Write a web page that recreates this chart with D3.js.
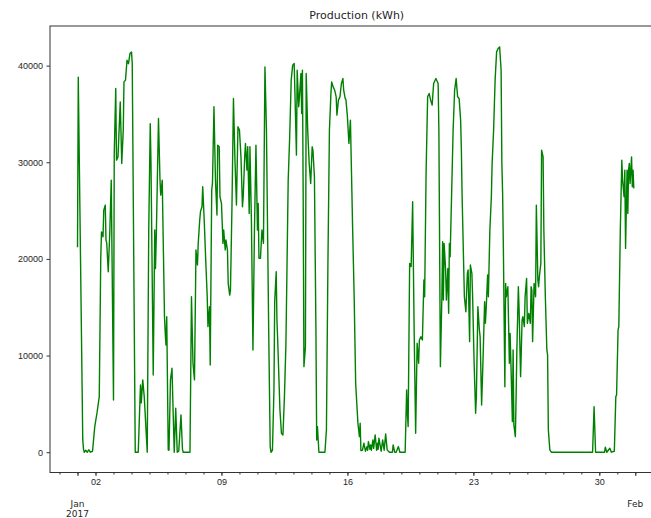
<!DOCTYPE html>
<html>
<head>
<meta charset="utf-8">
<script src="https://cdn.jsdelivr.net/npm/d3@7"></script>
<style>
  body { margin: 0; background: #fff; }
  svg { display: block; font-family: "DejaVu Sans", sans-serif; }
  .axis text { fill: #262626; }
  .axis path, .axis line { stroke: #333; }
</style>
</head>
<body>
<div id="chart"></div>
<script>
// hourly production, Jan 2017 (hours counted from Jan 1 00:00)
var hours = [0,1,7,8,9,11,13,15,17,20,23,26,29,31,32,34,35,37,38,39,41,43,45,48,49,51,52,54,57,59,
  61,62,64,66,68,70,72,73,77,81,83,84,85,87,89,93,95,97,98,101,103,104,105,108,110,111,113,116,117,118,
  119,121,122,124,126,129,131,133,135,138,140,141,150,152,154,156,158,160,161,163,164,166,167,169,171,173,174,176,177,179,
  180,182,184,186,187,189,190,192,194,195,197,198,200,201,203,204,206,208,210,212,214,216,218,220,221,223,224,226,227,229,
  230,232,234,236,238,240,241,242,244,246,248,250,252,255,257,258,260,262,263,265,266,267,270,272,274,276,278,281,283,285,
  287,289,291,292,293,295,296,298,299,300,301,302,304,305,307,309,311,313,314,316,318,319,320,322,330,332,334,336,338,339,
  341,343,345,346,348,350,352,354,355,357,358,360,362,364,365,367,369,371,374,376,377,378,380,382,384,386,387,388,390,391,
  392,394,395,397,399,400,401,402,405,407,409,411,413,416,420,421,423,425,428,430,437,439,440,441,443,445,447,449,451,453,
  455,456,458,460,462,463,465,467,469,471,473,475,478,481,482,484,486,487,488,489,491,492,494,495,496,497,499,501,503,505,
  507,509,511,512,513,515,516,518,520,521,523,524,526,527,529,531,532,534,536,537,539,541,543,544,545,547,548,550,552,553,
  555,557,559,561,563,565,566,567,568,570,571,572,574,576,577,579,580,581,582,584,585,586,588,589,591,593,594,596,597,599,
  600,602,604,605,606,607,609,611,612,614,615,616,618,619,621,622,624,626,627,628,630,632,687,689,691,703,704,706,710,712,
  716,718,719,721,722,724,726,727,729,730,731,733,734,735,736,737,739,740,741,742];

var production = [21200,38800,1300,300,0,200,0,250,0,100,2650,4060,5750,20090,22800,22300,25050,25570,21950,21600,18670,22640,28150,5400,30900,37640,30220,30560,36250,29880,
  33300,38320,38500,40560,40200,41260,41420,40200,0,0,4700,6960,5100,7480,5750,0,22990,34000,29880,7990,23000,19000,22000,34530,28150,26600,28150,14020,12330,11100,
  14020,240,200,7480,8690,0,4550,0,100,3860,300,0,0,16090,9230,7480,20920,19370,21610,24020,24880,25400,27460,24020,19880,16090,12990,15060,9030,27120,
  27810,35740,28150,24540,31770,31600,26430,25750,21610,22990,20920,21950,20920,17470,16260,16780,25400,36600,30220,25570,33670,33330,30560,25400,26430,30560,31950,29190,31600,24710,
  31600,23680,10580,22990,31770,22990,25750,20060,20060,22990,21610,39870,33330,12650,580,0,200,6440,15570,18670,13680,11610,4370,1960,1790,5750,11270,28150,32630,38500,
  40050,40220,34000,30740,39530,35740,36770,39190,35050,39530,26430,8850,10920,39190,33330,29880,27810,31600,31260,28500,12650,1270,2650,0,0,2300,19540,33330,37120,38320,
  37800,37460,36770,34880,36430,36770,38150,38670,37460,36600,36500,34700,31950,34360,30560,22990,16090,7130,3000,1610,3000,160,200,930,100,580,200,1100,300,760,
  200,1270,400,1790,200,930,300,1450,100,1270,200,1890,240,0,0,760,0,0,580,0,0,6440,4030,2650,19540,19200,25910,12650,1960,11270,
  9200,11610,11950,11610,17820,16090,29190,36770,37120,36430,35910,38150,38670,38150,33330,8850,16090,21780,15750,21610,18850,15750,19020,14370,21610,20220,26780,33330,37460,38670,
  36770,36600,34360,31260,26430,19540,16090,14540,18510,18850,11440,19370,18510,16090,9200,4030,5750,15060,12650,11950,4890,9890,15570,13340,14710,18330,16090,22990,26430,29880,
  33330,38500,41420,41770,41940,39530,29880,26780,21260,6780,17470,16090,17120,9200,12300,6440,3160,10580,2820,1610,5750,10580,17120,14710,7820,13680,14020,12990,16090,17990,
  13340,14370,13340,17120,16800,11440,17470,16090,25570,17820,17120,18160,19540,31260,30560,22990,16090,10580,10060,2310,240,0,0,4720,0,0,520,0,410,0,
  100,5750,5920,12650,12990,22990,30220,28150,26430,29190,21090,29190,24710,29190,29880,27810,30560,27460,29190,27300];

var yTicks = [0, 10000, 20000, 30000, 40000];
var weekTicks = [2, 9, 16, 23, 30];          // labelled days of January
var monthLabels = [["Jan", "2017"], ["Feb"]];

var W = 651, H = 518;
var mLeft = 50, mTop = 26, mRight = 663.5, mBottom = 472.5;

var start = new Date(2017, 0, 1);
function atHour(h) { return new Date(start.getTime() + h * 3600e3); }

var x = d3.scaleTime()
    .domain([atHour(-36.7), atHour(781.6)])
    .range([mLeft, mRight]);
var y = d3.scaleLinear()
    .domain([-2100, 44100])
    .range([mBottom, mTop]);

var svg = d3.select("#chart").append("svg")
    .attr("width", W)
    .attr("height", H);

var data = hours.map(function(h, i){ return {t: atHour(h), v: production[i]}; });

var line = d3.line()
    .defined(function(d){ return d.v != null; })
    .x(function(d){ return x(d.t); })
    .y(function(d){ return y(d.v); });

svg.append("path")
    .datum(data)
    .attr("fill", "none")
    .attr("stroke", "#008000")
    .attr("stroke-width", 1.4)
    .attr("stroke-linejoin", "round")
    .attr("d", line);

// frame
svg.append("rect")
    .attr("x", mLeft).attr("y", mTop)
    .attr("width", mRight - mLeft).attr("height", mBottom - mTop)
    .attr("fill", "none")
    .attr("stroke", "#333")
    .attr("stroke-width", 1);

// y axis
var yAxis = svg.append("g")
    .attr("class", "axis")
    .attr("transform", "translate(" + mLeft + ",0)")
    .call(d3.axisLeft(y).tickValues(yTicks).tickSize(3.5).tickPadding(3.5).tickFormat(d3.format("d")));
yAxis.select(".domain").remove();
yAxis.selectAll("text").style("font-size", "9px");

// x axis: daily minor ticks
var days = d3.timeDay.range(new Date(2016, 11, 31), new Date(2017, 1, 3));
var xMinor = svg.append("g")
    .attr("class", "axis")
    .attr("transform", "translate(0," + mBottom + ")")
    .call(d3.axisBottom(x).tickValues(days).tickSize(2).tickFormat(""));
xMinor.select(".domain").remove();

// weekly labelled ticks
var weekDates = weekTicks.map(function(d){ return new Date(2017, 0, d); });
var xMajor = svg.append("g")
    .attr("class", "axis")
    .attr("transform", "translate(0," + mBottom + ")")
    .call(d3.axisBottom(x).tickValues(weekDates).tickSize(3.5).tickPadding(3)
      .tickFormat(d3.timeFormat("%d")));
xMajor.select(".domain").remove();
xMajor.selectAll("text").style("font-size", "9px");

// month ticks and labels
var monthDates = [new Date(2017, 0, 1), new Date(2017, 1, 1)];
var xMonth = svg.append("g")
    .attr("class", "axis")
    .attr("transform", "translate(0," + mBottom + ")")
    .call(d3.axisBottom(x).tickValues(monthDates).tickSize(3.5).tickFormat(""));
xMonth.select(".domain").remove();

monthDates.forEach(function(d, i){
  var t = svg.append("text")
      .attr("x", x(d))
      .attr("y", 507)
      .attr("text-anchor", "middle")
      .attr("fill", "#262626")
      .style("font-size", "9px");
  monthLabels[i].forEach(function(s, j){
    t.append("tspan").attr("x", x(d)).attr("dy", j ? 10 : 0).text(s);
  });
});

// title
svg.append("text")
    .attr("x", (mLeft + mRight) / 2)
    .attr("y", 19)
    .attr("text-anchor", "middle")
    .attr("fill", "#262626")
    .style("font-size", "11px")
    .text("Production (kWh)");
</script>
</body>
</html>
